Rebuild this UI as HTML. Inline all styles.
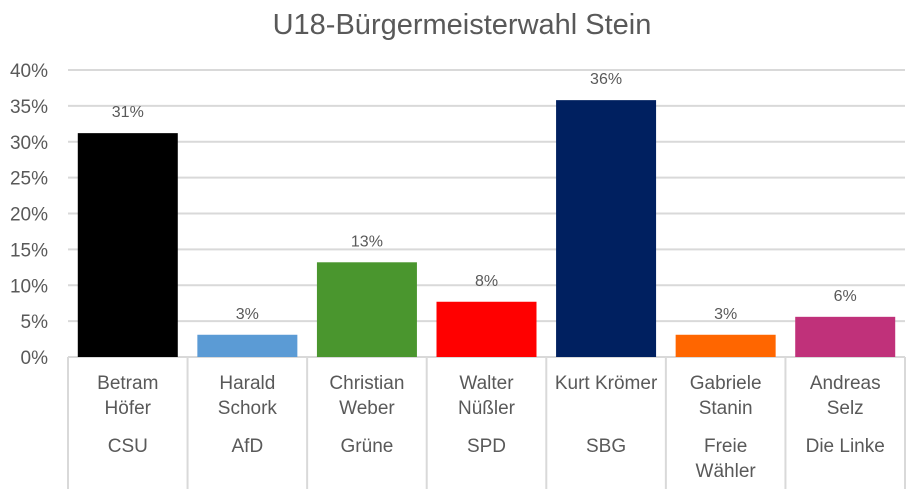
<!DOCTYPE html>
<html><head><meta charset="utf-8"><style>
body{margin:0;background:#fff}
svg text{font-family:"Liberation Sans",sans-serif;fill:#595959}
</style></head><body>
<svg id="c" width="915" height="489" xmlns="http://www.w3.org/2000/svg">
<text x="462" y="34" text-anchor="middle" font-size="29">U18-Bürgermeisterwahl Stein</text>
<g id="grid"></g><g id="bars"></g><g id="xaxis"></g>
</svg>
<script>
const names=[["Betram","Höfer"],["Harald","Schork"],["Christian","Weber"],["Walter","Nüßler"],["Kurt Krömer"],["Gabriele","Stanin"],["Andreas","Selz"]];
const parties=[["CSU"],["AfD"],["Grüne"],["SPD"],["SBG"],["Freie","Wähler"],["Die Linke"]];
const values=[31.2,3.1,13.2,7.7,35.8,3.1,5.6];
const valueLabels=["31%","3%","13%","8%","36%","3%","6%"];
const colors=["#000000","#5b9bd5","#4a962e","#ff0000","#002060","#ff6600","#c0317a"];
const ticks=[0,5,10,15,20,25,30,35,40];
const NS="http://www.w3.org/2000/svg";
const x0=68,x1=905,yBase=357,pxPer=7.175;
const bw=(x1-x0)/values.length;
const y=v=>yBase-v*pxPer;
function mk(t,a,p,txt){const e=document.createElementNS(NS,t);for(const k in a)e.setAttribute(k,a[k]);if(txt!=null)e.textContent=txt;p.appendChild(e);return e;}
const G=document.getElementById('grid'),B=document.getElementById('bars'),X=document.getElementById('xaxis');
ticks.forEach(t=>{
 const l=mk('line',{x1:x0,x2:x1,y1:y(t),y2:y(t),stroke:"#d9d9d9","stroke-width":2},G);
 
 
 const tx=mk('text',{x:48,y:y(t)+7,"text-anchor":"end","font-size":19},G,t+"%");
 
 
});
values.forEach((v,i)=>{
 const cx=x0+bw*(i+0.5);
 const r=mk('rect',{x:cx-50,y:y(v),width:100,height:v*pxPer,fill:colors[i]},B);
 
 
 const t=mk('text',{x:cx,y:y(v)-16,"text-anchor":"middle","font-size":16},B,valueLabels[i]);
 
 
 names[i].forEach((n,j)=>{const e=mk('text',{x:cx,y:389+j*25,"text-anchor":"middle","font-size":19},X,n);
  
  });
 parties[i].forEach((n,j)=>{const e=mk('text',{x:cx,y:452+j*25,"text-anchor":"middle","font-size":19},X,n);
  
  });
});
for(let i=0;i<=values.length;i++){
 const xx=x0+bw*i;
 const l=mk('line',{x1:xx,x2:xx,y1:yBase,y2:489,stroke:"#d9d9d9","stroke-width":2},X);
 
 
}
</script>
</body></html>
